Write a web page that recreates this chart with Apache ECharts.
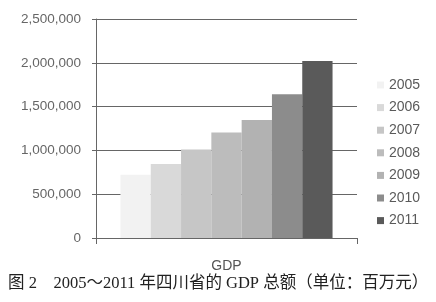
<!DOCTYPE html>
<html>
<head>
<meta charset="utf-8">
<script src="https://cdn.jsdelivr.net/npm/echarts@6/dist/echarts.min.js"></script>
<style>
html,body{margin:0;padding:0;background:#fff;}
#c{width:436px;height:302px;}
</style>
</head>
<body>
<div id="c"></div>
<script>
var categories = ['GDP'];
var years = ['2005','2006','2007','2008','2009','2010','2011'];
var gdpValues = [722000, 846000, 1010000, 1203000, 1348000, 1640000, 2021000];
var yTicks = [0, 500000, 1000000, 1500000, 2000000, 2500000];
var colors = ['#f2f2f2','#d9d9d9','#c6c6c6','#bcbcbc','#b2b2b2','#8c8c8c','#5a5a5a'];

var FONT = '"Liberation Sans", Arial, sans-serif';
var chart = echarts.init(document.getElementById('c'), null, {renderer:'canvas'});
var series = years.map(function(y, i){
  return {
    name: y,
    type: 'bar',
    data: [gdpValues[i]],
    barWidth: 30.3,
    barGap: '0%',
    itemStyle: {color: colors[i]}
  };
});
chart.setOption({
  animation: false,
  backgroundColor: '#fff',
  grid: {left: 96, right: 79, top: 19, bottom: 64},
  legend: {
    orient: 'vertical',
    left: 372,
    top: 73,
    itemWidth: 7,
    itemHeight: 7,
    itemGap: 8.6,
    icon: 'rect',
    data: years,
    textStyle: {fontFamily: FONT, fontSize: 14, color: '#5a5a5a', padding: [0,0,0,0]}
  },
  xAxis: {
    type: 'category',
    data: categories,
    axisLine: {show: true, lineStyle: {color: '#666', width: 1}},
    axisTick: {show: true, length: 6, lineStyle: {color: '#666'}},
    axisLabel: {fontFamily: FONT, fontSize: 14, color: '#555', margin: 21}
  },
  yAxis: {
    type: 'value',
    min: 0,
    max: 2500000,
    interval: 500000,
    axisLine: {show: true, lineStyle: {color: '#666', width: 1}},
    axisTick: {show: true, length: 4, lineStyle: {color: '#666'}},
    splitLine: {show: true, lineStyle: {color: '#666', width: 1}},
    axisLabel: {
      fontFamily: FONT, fontSize: 13.5, color: '#666', margin: 15,
      formatter: function(v){ return v.toLocaleString('en-US'); }
    }
  },
  graphic: [{
    type: 'text',
    left: 8,
    top: 275,
    style: {
      text: '图 2    2005～2011 年四川省的 GDP 总额（单位：百万元）',
      font: '16.5px "Liberation Serif", "Noto Sans CJK SC", serif',
      fill: '#222'
    }
  }],
  series: series
});
</script>
</body>
</html>
